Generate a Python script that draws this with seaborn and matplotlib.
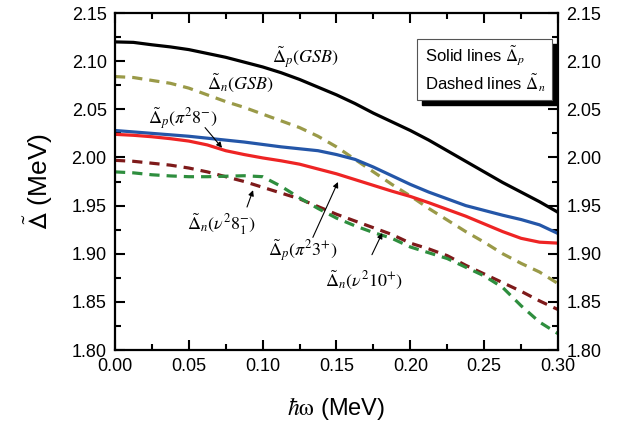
import matplotlib
matplotlib.use('Agg')
import matplotlib.pyplot as plt
import matplotlib.ticker as mticker
from matplotlib.patches import Rectangle
import pandas as pd
import seaborn as sns

plt.rcParams['font.family'] = ['Liberation Sans', 'DejaVu Sans']
plt.rcParams['mathtext.fontset'] = 'stixsans'

# rotational frequency (MeV)
omega = [0.0, 0.0125, 0.025, 0.0375, 0.05, 0.0625, 0.075, 0.0875, 0.1, 0.1125, 0.125, 0.1375, 0.15,
         0.1625, 0.175, 0.1875, 0.2, 0.2125, 0.225, 0.2375, 0.25, 0.2625, 0.275, 0.2875, 0.3]

# pairing gaps
dp_gsb = [2.120, 2.1195, 2.117, 2.1148, 2.112, 2.108, 2.104, 2.099, 2.094, 2.088, 2.081, 2.073, 2.065,
          2.056, 2.046, 2.037, 2.028, 2.018, 2.007, 1.996, 1.985, 1.974, 1.964, 1.954, 1.943]
dn_gsb = [2.084, 2.083, 2.080, 2.077, 2.072, 2.065, 2.058, 2.052, 2.045, 2.038, 2.031, 2.022, 2.011,
          1.998, 1.985, 1.972, 1.960, 1.947, 1.935, 1.923, 1.912, 1.900, 1.890, 1.881, 1.869]
dp_pi8 = [2.028, 2.0265, 2.025, 2.0235, 2.022, 2.020, 2.018, 2.016, 2.0135, 2.011, 2.009, 2.007, 2.003,
          1.998, 1.990, 1.981, 1.972, 1.964, 1.957, 1.950, 1.945, 1.940, 1.9355, 1.930, 1.921]
dp_pi3 = [2.024, 2.023, 2.0215, 2.0195, 2.017, 2.013, 2.007, 2.003, 1.9995, 1.9965, 1.993, 1.988, 1.983,
          1.977, 1.971, 1.965, 1.9595, 1.953, 1.946, 1.939, 1.931, 1.923, 1.916, 1.912, 1.911]
dn_nu8 = [1.997, 1.996, 1.994, 1.992, 1.989, 1.985, 1.980, 1.975, 1.969, 1.963, 1.957, 1.949, 1.941,
          1.934, 1.927, 1.920, 1.911, 1.905, 1.898, 1.888, 1.879, 1.870, 1.861, 1.851, 1.842]
dn_nu10 = [1.985, 1.984, 1.982, 1.9808, 1.980, 1.980, 1.9805, 1.981, 1.980, 1.970, 1.958, 1.947, 1.937,
           1.929, 1.922, 1.916, 1.907, 1.901, 1.895, 1.886, 1.877, 1.865, 1.846, 1.829, 1.817]

df = pd.DataFrame({'w': omega, 'dp_gsb': dp_gsb, 'dn_gsb': dn_gsb, 'dp_pi8': dp_pi8,
                   'dp_pi3': dp_pi3, 'dn_nu8': dn_nu8, 'dn_nu10': dn_nu10})

fig = plt.figure(figsize=(6.37, 4.28), dpi=100)
ax = fig.add_axes([0.1805, 0.1822, 0.6955, 0.7874])

dash = (0, (3.2, 2.2))
sns.lineplot(data=df, x='w', y='dp_gsb', color='black', lw=2.3, ax=ax)
sns.lineplot(data=df, x='w', y='dn_gsb', color='#9a9a48', lw=2.3, linestyle=dash, ax=ax)
sns.lineplot(data=df, x='w', y='dp_pi8', color='#2456a8', lw=2.3, ax=ax)
sns.lineplot(data=df, x='w', y='dp_pi3', color='#ee2424', lw=2.3, ax=ax)
sns.lineplot(data=df, x='w', y='dn_nu8', color='#7e1a1a', lw=2.3, linestyle=dash, ax=ax)
sns.lineplot(data=df, x='w', y='dn_nu10', color='#2e8e3e', lw=2.3, linestyle=dash, ax=ax)

ax.set_xlim(0, 0.3)
ax.set_ylim(1.80, 2.15)
ax.xaxis.set_major_locator(mticker.MultipleLocator(0.05))
ax.xaxis.set_minor_locator(mticker.MultipleLocator(0.025))
ax.yaxis.set_major_locator(mticker.MultipleLocator(0.05))
ax.yaxis.set_minor_locator(mticker.MultipleLocator(0.025))
ax.xaxis.set_major_formatter(mticker.FormatStrFormatter('%.2f'))
ax.yaxis.set_major_formatter(mticker.FormatStrFormatter('%.2f'))
for s in ax.spines.values():
    s.set_linewidth(1.6)
    s.set_color('black')

ax.set_xlabel(r'$\hbar\mathrm{\omega}$ (MeV)', fontsize=17, labelpad=14, math_fontfamily='stix')
ax.set_ylabel(r'$\tilde{\Delta}$ (MeV)', fontsize=19, labelpad=12)

# curve labels
lab = dict(fontsize=13, family='Liberation Serif', math_fontfamily='stix', ha='center', va='center')
ax.text(0.129, 2.104, r'$\tilde{\Delta}_p(GSB)$', **lab)
ax.text(0.085, 2.078, r'$\tilde{\Delta}_n(GSB)$', **lab)
ax.text(0.046, 2.041, r'$\tilde{\Delta}_p(\pi^2 8^{-})$', **lab)
ax.text(0.0725, 1.930, r'$\tilde{\Delta}_n(\nu^2 8_1^{-})$', **lab)
ax.text(0.127, 1.904, r'$\tilde{\Delta}_p(\pi^2 3^{+})$', **lab)
ax.text(0.169, 1.873, r'$\tilde{\Delta}_n(\nu^2 10^{+})$', **lab)

# arrows (tail, head)
arrow_tails = [(0.061, 2.031), (0.0894, 1.9485), (0.134, 1.917), (0.174, 1.899)]
arrow_heads = [(0.0725, 2.010), (0.0935, 1.966), (0.151, 1.9745), (0.181, 1.9215)]
for t, h in zip(arrow_tails, arrow_heads):
    ax.annotate('', xy=h, xytext=t,
                arrowprops=dict(arrowstyle='-|>', color='black', lw=0.8, shrinkA=0, shrinkB=0,
                                mutation_scale=8))

# legend box with shadow
ax.add_patch(Rectangle((0.693, 0.727), 0.304, 0.181, transform=ax.transAxes,
                       fc='black', ec='black', zorder=5, clip_on=False))
ax.add_patch(Rectangle((0.682, 0.742), 0.304, 0.181, transform=ax.transAxes,
                       fc='white', ec='#555555', lw=0.8, zorder=6, clip_on=False))
ax.text(0.700, 0.876, r'Solid lines $\tilde{\Delta}_p$', transform=ax.transAxes,
        fontsize=12, va='center', zorder=7, math_fontfamily='stix')
ax.text(0.700, 0.794, r'Dashed lines $\tilde{\Delta}_n$', transform=ax.transAxes,
        fontsize=12, va='center', zorder=7, math_fontfamily='stix')

ax.tick_params(which='both', direction='in', top=True, right=True, bottom=True, left=True,
               labelright=True, width=1.5, colors='black', labelsize=13, pad=6)
ax.tick_params(which='major', length=7)
ax.tick_params(which='minor', length=4)

fig.savefig('out.png', dpi=100)
